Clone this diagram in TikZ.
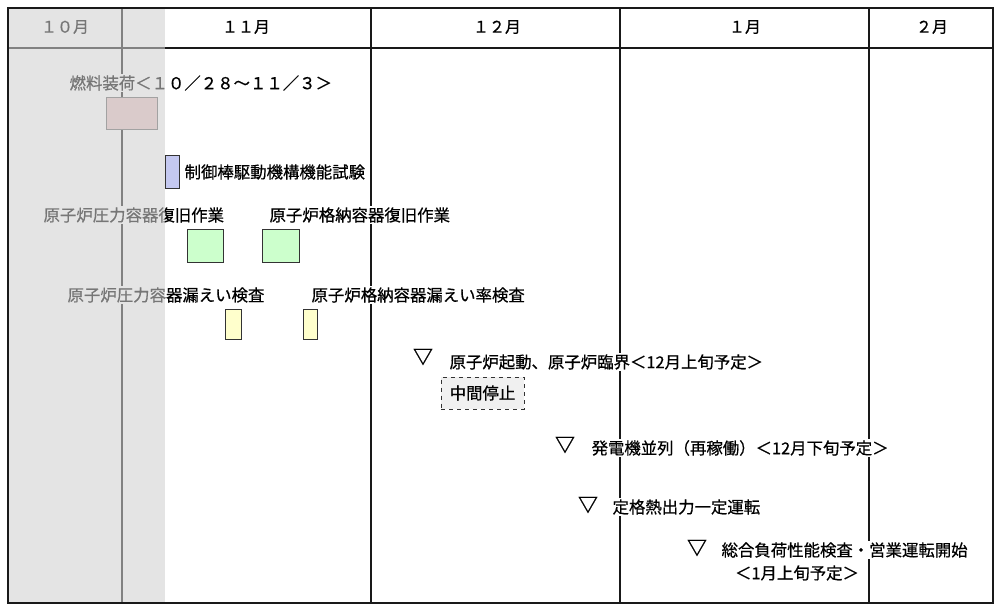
\documentclass[tikz,border=0pt]{standalone}
\usepackage{fontspec}
\setmainfont{Noto Sans CJK JP}[FakeBold=0.6]
\definecolor{pastgray}{RGB}{209,209,209}
\definecolor{fuelc}{RGB}{230,196,196}
\definecolor{crdc}{RGB}{196,200,240}
\definecolor{grn}{RGB}{204,255,204}
\definecolor{yel}{RGB}{255,255,204}
\begin{document}
\begin{tikzpicture}[x=0.75pt,y=-0.75pt,
  lbl/.style={anchor=west,inner sep=1pt,fill=white,font=\fontsize{12.3}{13}\selectfont},
  hdr/.style={font=\fontsize{12}{13}\selectfont},
  bar/.style={draw=black!80,line width=0.6pt},
  tri/.style={font=\fontsize{15}{15}\bfseries\selectfont,inner sep=0pt}]
\useasboundingbox (0,0) rectangle (1000,608);
\fill[white] (0,0) rectangle (1000,608);
% grid
\foreach \x in {122,371,620,869} \draw[line width=0.9pt,black!90] (\x,8) -- (\x,603);
\draw[line width=0.9pt,black!90] (8,48) -- (993,48);
% header
\node[hdr] (m10) at (65,27) {１０月};
\node[hdr] (m11) at (246,27) {１１月};
\node[hdr] (m12) at (497,27) {１２月};
\node[hdr] (m1) at (745,27) {１月};
\node[hdr] (m2) at (932,27) {２月};
% fuel
\node[lbl] (fuelt) at (68,83) {燃料装荷＜１０／２８～１１／３＞};
\draw[bar,draw=black!60,fill=fuelc] (106,97) rectangle (157,129);
% CRD
\draw[bar,fill=crdc] (165,155) rectangle (179,188);
\node[lbl] (crd) at (183,172) {制御棒駆動機構機能試験};
% restore
\node[lbl] (rpv) at (42,215) {原子炉圧力容器復旧作業};
\node[lbl] (pcv) at (268,215) {原子炉格納容器復旧作業};
\draw[bar,fill=grn] (187,229) rectangle (223,262);
\draw[bar,fill=grn] (262,229) rectangle (299,262);
% leak
\node[lbl] (rpvl) at (66,295) {原子炉圧力容器漏えい検査};
\node[lbl] (pcvl) at (310,295) {原子炉格納容器漏えい率検査};
\draw[bar,fill=yel] (225,309) rectangle (241,339);
\draw[bar,fill=yel] (303,309) rectangle (317,339);
% milestones
\node[tri] (t1) at (423,357) {▽};
\node[lbl] (s1) at (448,362) {原子炉起動、原子炉臨界＜12月上旬予定＞};
\node[draw=black!80,dashed,fill=black!6,minimum width=62pt,minimum height=24pt,
  font=\fontsize{12.3}{13}\selectfont] (stop) at (482.5,393) {中間停止};
\node[tri] (t2) at (565,445) {▽};
\node[lbl] (s2) at (590,448) {発電機並列（再稼働）＜12月下旬予定＞};
\node[tri] (t3) at (588,505) {▽};
\node[lbl] (s3) at (611,507) {定格熱出力一定運転};
\node[tri] (t4) at (697,548) {▽};
\node[lbl] (s4) at (720,550) {総合負荷性能検査・営業運転開始};
\node[lbl,anchor=center] (s5) at (797,573) {＜1月上旬予定＞};
% gray overlay for past
\fill[pastgray,opacity=0.57] (8,8) rectangle (165,603);
\draw[line width=1pt,black!90] (8,8) rectangle (993,603);
\end{tikzpicture}
\end{document}
